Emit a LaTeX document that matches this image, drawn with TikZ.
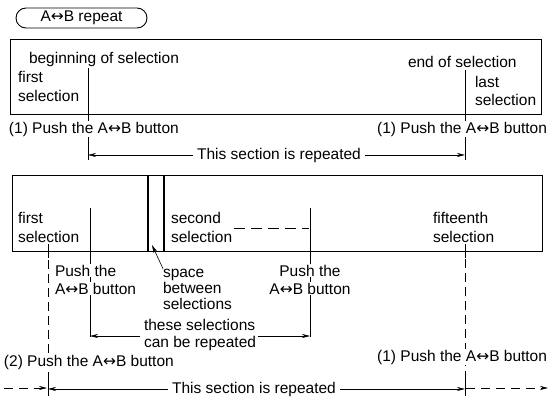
\documentclass[tikz,border=0pt]{standalone}
\usepackage{fontspec}
\usepackage{graphicx}
\setmainfont{Liberation Sans}
\newfontfamily\arrowfont{DejaVu Sans}
\usetikzlibrary{arrows.meta}
\newcommand{\AB}{A{\arrowfont ↔}B}
\newcommand{\fs}{\fontsize{15.5}{17.5}\selectfont}
\tikzset{
  lbl/.style={font=\fs, inner sep=0.8pt, fill=white, anchor=base west},
  lblc/.style={lbl, anchor=base},
  lble/.style={lbl, anchor=base east},
  frame/.style={draw, line width=1.4pt, inner sep=0pt, anchor=north west},
  pill/.style={draw, line width=0.9pt, rounded corners=10pt, minimum width=131pt, minimum height=20pt, font=\fs, inner sep=0pt},
  gapline/.style={line width=1.4pt},
  vline/.style={line width=0.7pt},
  dline/.style={line width=0.7pt, dash pattern=on 9pt off 5pt},
  arr/.style={line width=0.6pt, -{Stealth[length=8pt,width=4pt]}},
  darr/.style={line width=0.6pt, dash pattern=on 9pt off 6pt, -{Stealth[length=8pt,width=4pt]}}
}
\begin{document}
\begin{tikzpicture}[x=1pt,y=-1pt]
\useasboundingbox (0,0) rectangle (550,399);
% title
\node[pill] (title) at (81.5,18) {\AB\ repeat};
% ---------- first diagram ----------
\node[frame, minimum width=531pt, minimum height=75pt] (box1) at (10,39) {};
\coordinate (b1top) at (88,68);
\coordinate (b1bot) at (88,160);
\coordinate (e1top) at (465,70);
\coordinate (e1bot) at (465,160);
\draw[vline] (b1top) -- (b1bot);
\draw[vline] (e1top) -- (e1bot);
\node[lbl] (beg) at (28,63) {beginning of selection};
\node[lbl] (endsel) at (407,67) {end of selection};
\node[lbl] (first1a) at (17,82) {first};
\node[lbl] (first1b) at (17,101) {selection};
\node[lbl] (last1a) at (474,87) {last};
\node[lbl] (last1b) at (474,105) {selection};
\node[lbl] (push1L) at (8,133) {(1) Push the \AB\ button};
\node[lble] (push1R) at (548,133) {(1) Push the \AB\ button};
\node[lblc] (rep1) at (279,159) {This section is repeated};
\draw[arr] ([xshift=-3pt]rep1.west) -- (rep1.west -| b1top);
\draw[arr] ([xshift=3pt]rep1.east) -- (rep1.east -| e1top);
% ---------- second diagram ----------
\node[frame, minimum width=530pt, minimum height=76pt] (box2) at (12,175) {};
\coordinate (g1t) at (148,175); \coordinate (g1b) at (148,251);
\coordinate (g2t) at (164,175); \coordinate (g2b) at (164,251);
\draw[gapline] (g1t) -- (g1b);
\draw[gapline] (g2t) -- (g2b);
\coordinate (p1top) at (90,208);
\coordinate (p1bot) at (90,337);
\coordinate (p2top) at (310,208);
\coordinate (p2bot) at (310,337);
\draw[vline] (p1top) -- (p1bot);
\draw[vline] (p2top) -- (p2bot);
\coordinate (ftop) at (48,246);
\coordinate (fbot) at (48,396);
\coordinate (ltop) at (465,245);
\coordinate (lbot) at (465,399);
\draw[dline] (ftop) -- (fbot);
\draw[dline] (ltop) -- (lbot);
\draw[vline] (48,244) -- (48,258);
\draw[vline] (465,244) -- (465,258);
\draw[vline] (48,380) -- (48,396);
\draw[vline] (465,380) -- (465,396);
% dashes after "second selection"
\coordinate (d1) at (234,228);
\coordinate (d2) at (309,228);
\draw[line width=0.7pt, dash pattern=on 11pt off 6pt] (d1) -- (d2);
\node[lbl] (first2a) at (17,223) {first};
\node[lbl] (first2b) at (17,242) {selection};
\node[lbl] (second2a) at (170,223) {second};
\node[lbl] (second2b) at (170,242) {selection};
\node[lbl] (fif2a) at (432,223) {fifteenth};
\node[lbl] (fif2b) at (432,242) {selection};
\node[lbl] (pushLa) at (54,276) {Push the};
\node[lbl] (pushLb) at (54,294) {\AB\ button};
\node[lbl] (spa) at (162,277) {space};
\node[lbl] (spb) at (162,293) {between};
\node[lbl] (spc) at (162,309) {selections};
\coordinate (gap) at (152,245);
\draw[arr] ([shift={(1pt,-1pt)}]spa.north west) -- (gap);
\node[lblc] (pushRa) at (310,276) {Push the};
\node[lblc] (pushRb) at (310,294) {\AB\ button};
\node[lbl] (thesea) at (143,330) {these selections};
\node[lbl] (theseb) at (143,347) {can be repeated};
\coordinate (aL) at (140,336);
\coordinate (aR) at (258,336);
\draw[arr] (aL) -- (aL -| p1top);
\draw[arr] (aR) -- (aR -| p2top);
\node[lbl] (push2L) at (3,366) {(2) Push the \AB\ button};
\node[lble] (push1R2) at (548,361) {(1) Push the \AB\ button};
\node[lblc] (rep2) at (254,393) {This section is repeated};
\coordinate (startL) at (4,388);
\coordinate (endR) at (548,388);
\draw[arr] ([xshift=-3pt]rep2.west) -- (rep2.west -| ftop);
\draw[arr] ([xshift=3pt]rep2.east) -- (rep2.east -| ltop);
\draw[darr] (startL) -- ([xshift=-1pt]startL -| ftop);
\draw[darr] ([xshift=1pt]endR -| ltop) -- (endR);
\end{tikzpicture}
\end{document}
